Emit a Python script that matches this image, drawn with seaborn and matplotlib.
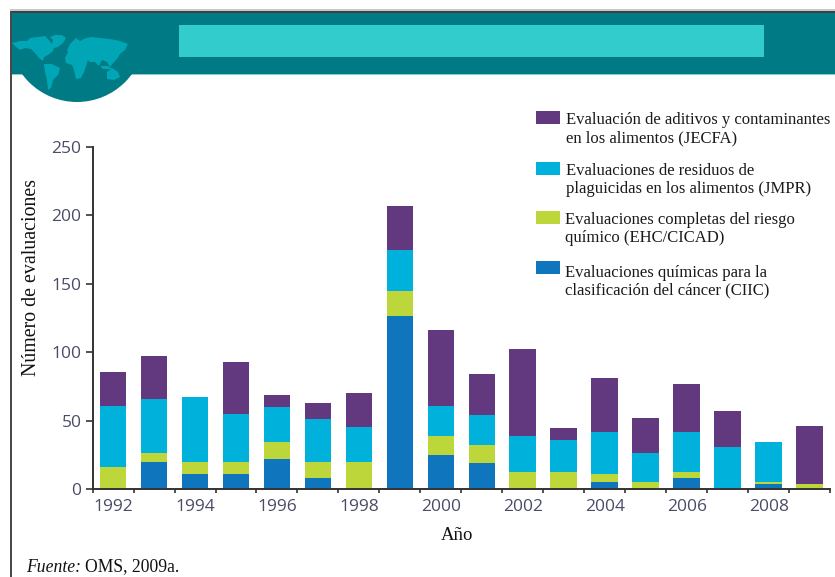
import numpy as np
import matplotlib
matplotlib.use("Agg")
import matplotlib.pyplot as plt
from matplotlib.patches import Rectangle, Circle, Polygon
import seaborn as sns

years = [str(y) for y in range(1992, 2010)]
ciic =  [0, 20, 11, 11, 22, 8, 0, 126.5, 25, 19, 0, 0, 5, 0, 8, 0, 3.5, 0]
ehc =   [16, 6, 9, 9, 12, 12, 20, 18.5, 13.5, 13.5, 12.5, 12.5, 6, 5, 4.5, 0, 1.5, 3.5]
jmpr =  [45, 40, 47, 35, 26, 31, 25, 30, 22.5, 21.5, 26, 23, 30.5, 21, 29, 31, 29, 0]
jecfa = [24.5, 31.5, 0, 38, 9, 12, 25, 32, 55, 30, 63.5, 9, 39.5, 26, 35, 26, 0, 42.5]

series = [ciic, ehc, jmpr, jecfa]
colors = ["#0F75BC", "#BDD63A", "#00B2DB", "#62387F"]
legend_labels = [
    "Evaluación de aditivos y contaminantes\nen los alimentos (JECFA)",
    "Evaluaciones de residuos de\nplaguicidas en los alimentos (JMPR)",
    "Evaluaciones completas del riesgo\nquímico (EHC/CICAD)",
    "Evaluaciones químicas para la\nclasificación del cáncer (CIIC)",
]
legend_colors = ["#62387F", "#00B2DB", "#BDD63A", "#0F75BC"]
legend_swatch_top = [111, 162, 211, 261]
legend_text_y = [129, 180.3, 229, 281.5]
legend_text_x = [566, 566, 565, 565]

W, H = 835, 577
sns.set_theme(style="white")
plt.rcParams["font.family"] = ["Liberation Serif", "DejaVu Serif"]
fig = plt.figure(figsize=(W / 100, H / 100), dpi=100, facecolor="white")

# Page decoration in pixel coordinates
bg = fig.add_axes([0, 0, 1, 1], zorder=0)
bg.set_xlim(0, W)
bg.set_ylim(H, 0)
bg.axis("off")
teal = "#007A84"
bg.add_patch(Rectangle((10, 11), W - 10, 63, color=teal, lw=0))
bg.add_patch(Rectangle((10, 74), W - 10, 1.2, color="#8CC8CC", lw=0))
dome = Circle((77, 34), 68, color=teal, lw=0, zorder=2)
bg.add_patch(dome)
dome_clip = Rectangle((0, 70), W, 60, transform=bg.transData)
dome.set_clip_path(dome_clip)
bg.add_patch(Rectangle((179, 25), 585, 32, color="#33CCCC", lw=0))
bg.add_patch(Rectangle((10, 10.5), W - 10, 2, color="#3A4244", lw=0, zorder=5))
bg.add_patch(Rectangle((10, 9), W - 10, 1.5, color="#C8C8C8", lw=0, zorder=5))
bg.add_patch(Rectangle((9.5, 10.5), 2, H, color="#4A4A4A", lw=0, zorder=5))
land = "#00A6B6"
continents = [
    [(12, 43), (20, 41), (27, 41), (30, 38), (38, 37), (45, 36), (48, 39), (52, 44), (53, 40),
     (50, 37), (55, 35), (62, 35), (66, 38), (63, 43), (58, 47), (54, 48), (53, 51), (48, 55),
     (44, 57), (43, 61), (39, 58), (35, 53), (31, 49), (25, 48), (20, 50), (16, 47)],
    [(44, 64), (52, 64), (60, 68), (58, 75), (53, 80), (51, 88), (48, 90), (47, 80), (45, 72)],
    [(65, 58), (68, 52), (75, 51), (82, 54), (88, 60), (86, 66), (84, 72), (81, 78), (76, 79),
     (74, 70), (72, 65), (66, 63)],
    [(67, 51), (70, 44), (76, 38), (80, 41), (86, 38), (92, 37), (100, 38), (110, 39), (120, 41),
     (128, 44), (125, 50), (120, 54), (117, 59), (114, 62), (110, 67), (107, 62), (102, 60),
     (99, 66), (95, 62), (90, 62), (85, 58), (78, 52), (72, 54)],
    [(107, 72), (112, 68), (118, 72), (120, 77), (114, 80), (107, 79)],
    [(100, 66), (108, 66), (112, 69), (103, 69)],
]
for poly in continents:
    bg.add_patch(Polygon(poly, closed=True, color=land, lw=0, zorder=3))

# Legend
for label, col, top, ty, tx in zip(legend_labels, legend_colors, legend_swatch_top,
                                   legend_text_y, legend_text_x):
    bg.add_patch(Rectangle((536, top), 24, 13, color=col, lw=0))
    bg.text(tx, ty, label, fontsize=12.0, color="#1a1a1a", ha="left", va="center",
            linespacing=1.16)

bg.text(457, 536, "Año", fontsize=13.5, color="#111111", ha="center", va="center")
bg.text(32, 278, "Número de evaluaciones", fontsize=14.3, color="#111111", rotation=90,
        ha="center", va="center")
bg.text(26, 567, "Fuente:", fontsize=12.7, style="italic", color="#111111", ha="left", va="center")
bg.text(85, 567, "OMS, 2009a.", fontsize=12.7, color="#111111", ha="left", va="center")

# Chart
ax = fig.add_axes([92.6 / W, (H - 489) / H, 737.5 / W, 342 / H], zorder=2)
ax.patch.set_alpha(0)
bottom = np.zeros(len(years))
for vals, col in zip(series, colors):
    sns.barplot(x=years, y=vals, bottom=bottom, color=col, saturation=1, width=0.65,
                ax=ax, errorbar=None, linewidth=0)
    bottom = bottom + np.array(vals)

ax.set_xlim(-0.5, 17.5)
ax.set_ylim(0, 250)
ax.set_yticks([0, 50, 100, 150, 200, 250])
ax.set_xticks(np.arange(-0.5, 18, 1))
ax.set_xticklabels([])
ax.set_xticks(np.arange(0, 18, 2), minor=True)
ax.set_xticklabels(years[::2], minor=True)
tick_col = "#4A4B66"
ax.tick_params(axis="x", which="major", length=3, width=1.2, color="#333333", bottom=True)
ax.tick_params(axis="x", which="minor", length=0, pad=7, labelsize=12.5, labelcolor=tick_col,
               labelfontfamily="Open Sans", bottom=True)
ax.tick_params(axis="y", length=5, width=1.2, color="#333333", left=True, pad=3,
               labelsize=12.5, labelcolor=tick_col, labelfontfamily="Open Sans")
for s in ["top", "right"]:
    ax.spines[s].set_visible(False)
for s in ["left", "bottom"]:
    ax.spines[s].set_linewidth(1.4)
    ax.spines[s].set_color("#333333")
ax.set_xlabel("")
ax.set_ylabel("")

fig.savefig("out.png", dpi=100)
